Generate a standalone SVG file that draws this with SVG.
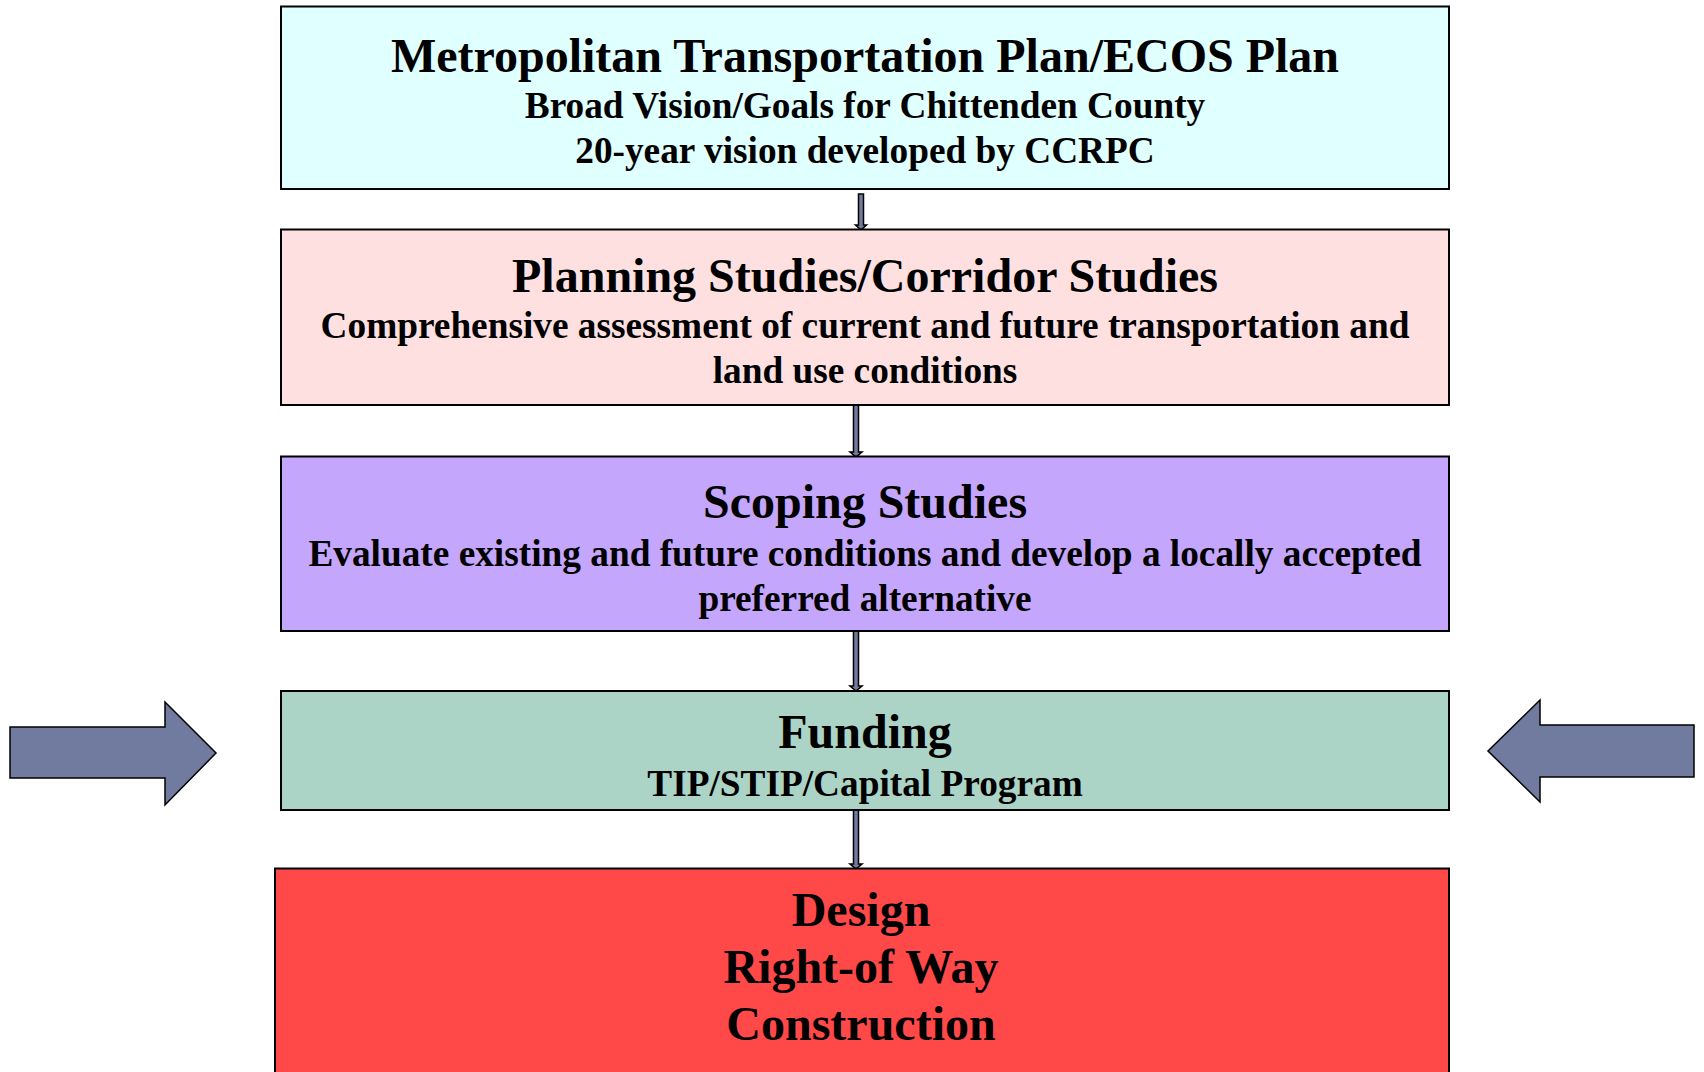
<svg xmlns="http://www.w3.org/2000/svg" width="1704" height="1072" viewBox="0 0 1704 1072">
<style>
.box{stroke:#000;stroke-width:2}
text{font-family:"Liberation Serif","Times New Roman",serif;font-weight:bold;fill:#000;text-anchor:middle}
.t{font-size:48px}
.s{font-size:37.3px}
.b{font-size:48px}
.conn{fill:#717BA0;stroke:#000;stroke-width:1.5}
</style>
<rect width="1704" height="1072" fill="#fff"/>
<g id="connectors">
<path class="conn" d="M858.5,194 h5 v31 h3 l-5.5,5 l-5.5,-5 h3 z"/>
<path class="conn" d="M853.5,405 h5 v47 h3.5 l-6,5 l-6,-5 h3.5 z"/>
<path class="conn" d="M853.5,631 h5 v55 h3.5 l-6,5 l-6,-5 h3.5 z"/>
<path class="conn" d="M853.5,810 h5 v54 h3.5 l-6,5 l-6,-5 h3.5 z"/>
<path id="arrow-left" class="conn" d="M10,727 H165 V702 L216,753 L165,805 V778 H10 Z"/>
<path id="arrow-right" class="conn" d="M1694,725 H1540 V700 L1488,751 L1540,802 V777 H1694 Z"/>
</g>
<g id="mtp">
<rect class="box" x="281" y="6.5" width="1168" height="182.5" fill="#E0FFFF"/>
<text class="t" x="865" y="72">Metropolitan Transportation Plan/ECOS Plan</text>
<text class="s" x="865" y="118">Broad Vision/Goals for Chittenden County</text>
<text class="s" x="865" y="163">20-year vision developed by CCRPC</text>
</g>
<g id="planning">
<rect class="box" x="281" y="229.5" width="1168" height="175.5" fill="#FFE0E0"/>
<text class="t" x="865" y="292">Planning Studies/Corridor Studies</text>
<text class="s" x="865" y="338">Comprehensive assessment of current and future transportation and</text>
<text class="s" x="865" y="383">land use conditions</text>
</g>
<g id="scoping">
<rect class="box" x="281" y="456.5" width="1168" height="174.5" fill="#C4A6FC"/>
<text class="t" x="865" y="518">Scoping Studies</text>
<text class="s" x="865" y="566">Evaluate existing and future conditions and develop a locally accepted</text>
<text class="s" x="865" y="611">preferred alternative</text>
</g>
<g id="funding">
<rect class="box" x="281" y="691" width="1168" height="119" fill="#ABD4C6"/>
<text class="t" x="865" y="748">Funding</text>
<text class="s" x="865" y="796">TIP/STIP/Capital Program</text>
</g>
<g id="design">
<rect class="box" x="275" y="868.5" width="1174" height="215" fill="#FF4848"/>
<text class="b" x="861" y="926">Design</text>
<text class="b" x="861" y="983">Right-of Way</text>
<text class="b" x="861" y="1040">Construction</text>
</g>
</svg>
